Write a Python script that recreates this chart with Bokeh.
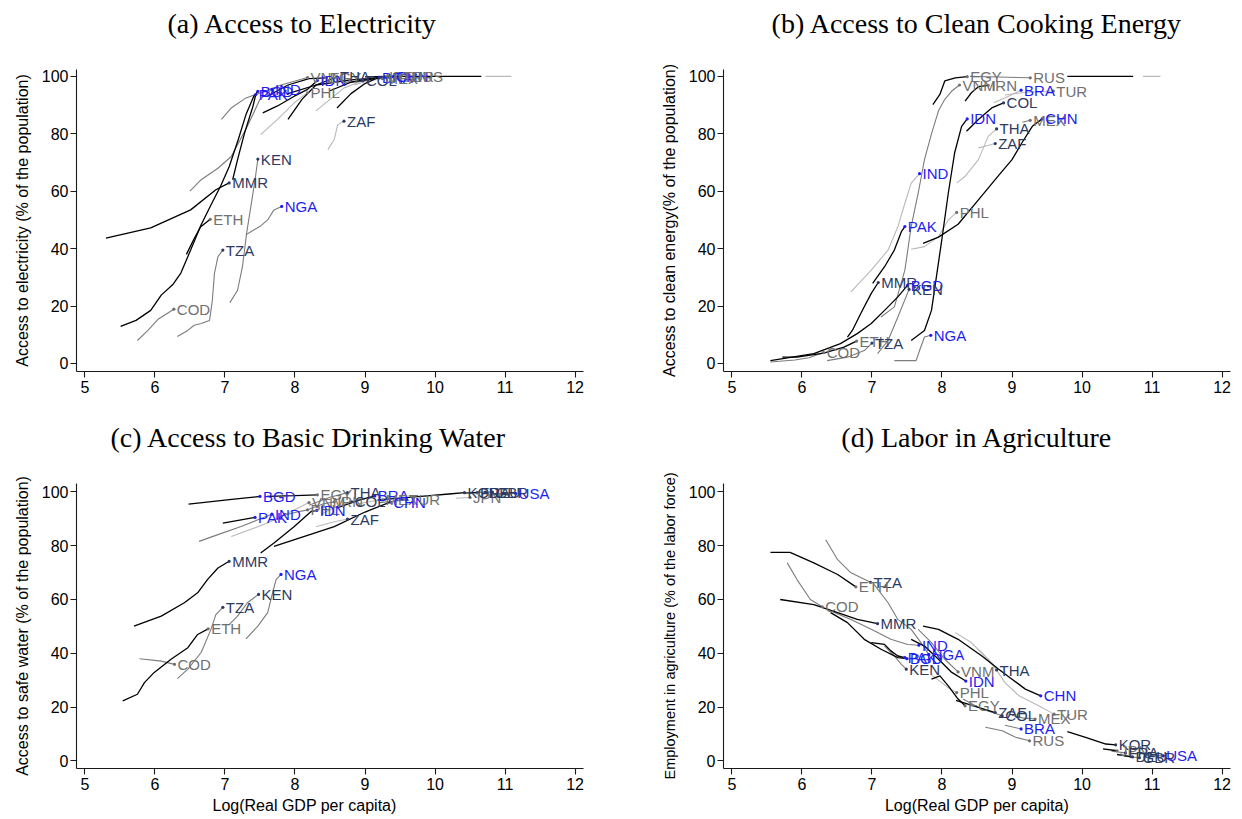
from bokeh.plotting import figure
from bokeh.layouts import column, row
from bokeh.models import ColumnDataSource, Range1d, FixedTicker, Title
from bokeh.core.properties import value
from bokeh.embed import file_html
from bokeh.resources import INLINE

# ---------------- data ----------------
X_TICKS = [5, 6, 7, 8, 9, 10, 11, 12]
Y_TICKS = [0, 20, 40, 60, 80, 100]

BLUE_SET = ["IND", "PAK", "BGD", "IDN", "NGA", "CHN", "BRA", "USA"]
NAVY_SET = ["KEN", "MMR", "TZA", "ZAF", "COL", "THA", "KOR", "FRA", "DEU", "GBR"]

# (a) Access to electricity
A_NAMES = ["KEN", "NGA", "TZA", "COD", "ETH", "MMR", "BGD", "PAK", "IND", "PHL", "ZAF",
           "VNM", "IDN", "EGY", "THA", "COL", "BRA", "MEX", "IRN", "CHN", "TUR", "RUS"]
A_X = [[7.07, 7.18, 7.25, 7.31, 7.37, 7.43, 7.47],
       [7.30, 7.37, 7.51, 7.61, 7.70, 7.81],
       [6.32, 6.47, 6.56, 6.66, 6.78, 6.82, 6.85, 6.90, 6.97],
       [5.75, 5.90, 6.05, 6.27],
       [6.45, 6.55, 6.65, 6.79],
       [5.30, 5.94, 6.51, 6.87, 7.06],
       [5.51, 5.73, 5.94, 6.09, 6.26, 6.37, 6.51, 6.66, 6.80, 6.94, 7.06, 7.19, 7.30, 7.41, 7.47],
       [7.11, 7.18, 7.28, 7.40, 7.44],
       [6.50, 6.66, 6.90, 7.09, 7.32, 7.50, 7.67],
       [7.51, 7.75, 7.99, 8.18],
       [8.47, 8.56, 8.61, 8.70],
       [6.95, 7.09, 7.30, 7.51, 7.80, 8.18],
       [7.54, 7.75, 7.99, 8.18, 8.32],
       [7.60, 7.90, 8.20, 8.45],
       [7.90, 8.10, 8.30, 8.60],
       [8.30, 8.50, 8.70, 8.97],
       [8.60, 8.80, 9.00, 9.20],
       [8.85, 9.05, 9.25],
       [8.50, 8.80, 9.30],
       [7.90, 8.30, 8.80, 9.40],
       [8.80, 9.20, 9.50],
       [9.00, 9.30, 9.62]]
A_Y = [[21.2, 25.5, 33.7, 45.5, 54.7, 64.0, 71.2],
       [44.8, 45.9, 47.9, 50.0, 53.5, 54.7],
       [9.4, 11.5, 13.3, 13.9, 15.0, 22.0, 31.4, 37.2, 39.5],
       [8.0, 11.5, 15.5, 18.9],
       [38.0, 43.0, 47.5, 50.2],
       [43.7, 47.2, 53.5, 60.5, 62.9],
       [12.9, 15.0, 18.5, 23.8, 27.6, 31.5, 39.5, 48.3, 55.2, 61.9, 68.5, 78.0, 86.7, 93.0, 94.8],
       [64.0, 71.0, 80.3, 89.6, 93.7],
       [60.0, 64.0, 68.0, 72.1, 82.6, 92.0, 95.5],
       [79.7, 85.0, 90.8, 94.3],
       [74.5, 78.0, 83.2, 84.4],
       [85.0, 89.0, 92.5, 94.3, 97.0, 99.6],
       [87.3, 89.7, 93.1, 95.5, 98.6],
       [93.0, 97.0, 99.2, 99.5],
       [85.0, 92.0, 97.0, 99.8],
       [88.0, 92.0, 96.0, 98.5],
       [89.0, 94.0, 97.5, 99.7],
       [97.0, 98.5, 99.2],
       [95.0, 98.0, 99.9],
       [94.0, 97.0, 98.8, 99.9],
       [98.0, 99.5, 99.9],
       [99.8, 100.0, 100.0]]
A_STYLE = ["g", "g", "g", "g", "k", "k", "k", "k", "g", "l", "l",
           "g", "k", "k", "k", "l", "k", "l", "k", "k", "k", "k"]
A_EXTRA_X = [[9.62, 10.66], [10.72, 11.09]]
A_EXTRA_Y = [[100.0, 100.0], [100.0, 100.0]]
A_EXTRA_S = ["k", "l"]

# (b) Access to clean cooking energy
B_NAMES = ["EGY", "RUS", "VNM", "IRN", "BRA", "TUR", "COL", "IDN", "THA", "ZAF", "MEX", "CHN",
           "PHL", "PAK", "IND", "MMR", "BGD", "KEN", "ETH", "TZA", "COD", "NGA"]
B_X = [[7.87, 7.97, 8.04, 8.19, 8.36],
       [8.40, 8.80, 9.26],
       [7.13, 7.32, 7.47, 7.56, 7.66, 7.75, 7.85, 7.95, 8.04, 8.14, 8.25],
       [8.33, 8.42, 8.52, 8.66],
       [8.74, 8.95, 9.13],
       [8.90, 9.20, 9.59],
       [8.35, 8.52, 8.71, 8.88],
       [7.56, 7.75, 7.85, 7.99, 8.09, 8.18, 8.28, 8.36],
       [8.21, 8.33, 8.52, 8.66, 8.78],
       [8.52, 8.66, 8.76],
       [9.15, 9.26],
       [7.73, 7.95, 8.23, 8.52, 8.81, 9.00, 9.14, 9.29, 9.43],
       [7.56, 7.75, 7.95, 8.09, 8.21],
       [7.01, 7.18, 7.32, 7.42, 7.47],
       [6.70, 6.99, 7.23, 7.37, 7.47, 7.56, 7.68],
       [6.65, 6.72, 6.84, 6.99, 7.09],
       [5.55, 6.17, 6.55, 6.79, 6.99, 7.18, 7.37, 7.51],
       [7.08, 7.23, 7.37, 7.53],
       [5.72, 5.93, 6.31, 6.60, 6.78],
       [6.36, 6.65, 6.89, 7.00],
       [5.55, 5.90, 6.10, 6.31],
       [7.32, 7.63, 7.68, 7.75, 7.84]]
B_Y = [[90.2, 93.7, 98.4, 99.5, 99.9],
       [100.0, 99.8, 99.5],
       [16.2, 19.7, 32.5, 47.7, 59.3, 71.0, 80.0, 88.0, 92.0, 94.9, 97.0],
       [91.4, 94.3, 96.4, 96.9],
       [90.8, 93.1, 95.2],
       [93.5, 94.5, 94.9],
       [80.9, 85.0, 89.0, 90.8],
       [8.0, 11.5, 18.5, 41.8, 59.3, 73.3, 82.6, 85.2],
       [62.8, 65.2, 71.0, 79.1, 81.7],
       [75.1, 75.9, 76.6],
       [84.0, 84.7],
       [41.8, 44.0, 48.5, 57.0, 65.5, 71.0, 76.8, 82.6, 85.2],
       [39.8, 40.7, 44.2, 50.0, 52.6],
       [27.9, 33.7, 39.5, 45.9, 47.7],
       [24.9, 32.5, 39.5, 47.6, 55.8, 62.8, 66.1],
       [9.2, 11.5, 17.4, 24.4, 28.2],
       [1.0, 3.4, 6.9, 10.4, 13.9, 18.5, 23.2, 27.3],
       [3.4, 8.0, 16.2, 25.8],
       [2.2, 2.2, 3.6, 5.7, 7.8],
       [1.0, 2.2, 4.5, 7.1],
       [0.5, 1.2, 2.0, 3.8],
       [1.0, 1.0, 4.5, 9.2, 9.8]]
B_STYLE = ["k", "g", "g", "k", "l", "l", "k", "k", "l", "l", "g", "k",
           "l", "k", "l", "k", "k", "g", "k", "g", "g", "g"]
B_EXTRA_X = [[9.79, 10.73], [10.87, 11.12]]
B_EXTRA_Y = [[100.0, 100.0], [100.0, 100.0]]
B_EXTRA_S = ["k", "l"]

# (c) Access to basic drinking water
C_NAMES = ["BGD", "EGY", "THA", "PAK", "IND", "VNM", "PHL", "IDN", "IRN", "COL", "ZAF", "BRA",
           "MEX", "CHN", "TUR", "MMR", "NGA", "KEN", "TZA", "ETH", "COD",
           "KOR", "JPN", "FRA", "DEU", "GBR", "USA"]
C_X = [[6.48, 7.13, 7.50],
       [7.60, 8.00, 8.32],
       [8.20, 8.50, 8.75],
       [6.97, 7.23, 7.43],
       [6.63, 6.90, 7.23, 7.47, 7.67],
       [7.09, 7.61, 8.20],
       [7.80, 8.00, 8.18],
       [7.51, 7.70, 7.99, 8.23, 8.31],
       [8.20, 8.40, 8.56],
       [8.40, 8.60, 8.81],
       [8.30, 8.55, 8.75],
       [8.60, 8.90, 9.14],
       [8.90, 9.10, 9.25],
       [7.70, 8.56, 9.00, 9.36],
       [9.20, 9.40, 9.59],
       [5.70, 6.09, 6.42, 6.61, 6.75, 6.90, 7.06],
       [7.30, 7.47, 7.61, 7.68, 7.73, 7.80],
       [7.06, 7.18, 7.32, 7.48],
       [6.32, 6.47, 6.66, 6.80, 6.87, 6.97],
       [5.54, 5.75, 5.85, 5.99, 6.23, 6.47, 6.61, 6.76],
       [5.78, 6.09, 6.28],
       [9.18, 9.80, 10.20, 10.42],
       [10.30, 10.50],
       [10.40, 10.60],
       [10.50, 10.72],
       [10.60, 10.82],
       [10.85, 11.15]]
C_Y = [[95.4, 97.3, 98.3],
       [98.3, 98.6, 98.9],
       [95.0, 98.0, 99.7],
       [88.4, 89.6, 90.5],
       [81.6, 84.1, 87.1, 89.6, 91.7],
       [83.4, 88.4, 96.0],
       [91.0, 92.3, 93.3],
       [77.3, 81.0, 87.1, 92.7, 93.1],
       [93.5, 95.5, 96.3],
       [92.0, 94.5, 96.3],
       [87.0, 88.8, 89.9],
       [94.0, 96.8, 98.5],
       [95.5, 96.5, 97.0],
       [79.7, 87.1, 92.5, 96.2],
       [96.0, 96.5, 97.0],
       [50.1, 53.8, 58.8, 62.5, 67.4, 71.7, 74.2],
       [45.4, 50.1, 55.1, 62.5, 67.4, 69.3],
       [50.7, 53.8, 58.8, 61.9],
       [30.6, 34.1, 40.3, 48.9, 54.4, 57.1],
       [22.3, 24.8, 29.1, 32.9, 37.8, 42.1, 47.0, 49.1],
       [38.0, 37.1, 35.9],
       [97.0, 98.3, 99.2, 99.7],
       [97.6, 97.9],
       [99.5, 99.7],
       [99.7, 99.9],
       [99.8, 99.9],
       [99.2, 99.4]]
C_STYLE = ["k", "k", "g", "k", "g", "l", "g", "k", "g", "l", "l", "k",
           "l", "k", "g", "k", "g", "g", "g", "k", "g",
           "k", "l", "k", "g", "g", "g"]
C_EXTRA_X = []
C_EXTRA_Y = []
C_EXTRA_S = []

# (d) Labor in agriculture
D_NAMES = ["TZA", "ETH", "COD", "MMR", "IND", "NGA", "PAK", "BGD", "KEN", "VNM", "IDN", "THA",
           "CHN", "TUR", "PHL", "EGY", "ZAF", "COL", "MEX", "BRA", "RUS",
           "KOR", "JPN", "FRA", "DEU", "GBR", "USA"]
D_X = [[6.34, 6.51, 6.70, 6.98],
       [5.55, 5.83, 6.17, 6.51, 6.77],
       [5.79, 5.93, 6.12, 6.29],
       [5.69, 6.17, 6.51, 6.79, 7.08],
       [6.41, 6.70, 6.99, 7.27, 7.51, 7.67],
       [7.03, 7.23, 7.37, 7.56, 7.70, 7.81],
       [6.99, 7.18, 7.27, 7.37, 7.47],
       [6.41, 6.65, 6.89, 7.13, 7.37, 7.50],
       [7.18, 7.32, 7.42, 7.49],
       [7.66, 7.85, 8.04, 8.23],
       [7.56, 7.75, 7.95, 8.14, 8.34],
       [8.19, 8.42, 8.61, 8.78],
       [7.73, 7.95, 8.23, 8.57, 8.81, 9.00, 9.19, 9.41],
       [8.52, 8.71, 8.90, 9.10, 9.38, 9.60],
       [7.85, 8.00, 8.10, 8.21],
       [7.85, 7.97, 8.09, 8.23, 8.33],
       [8.20, 8.45, 8.76],
       [8.30, 8.55, 8.86],
       [9.00, 9.15, 9.33],
       [8.90, 9.13],
       [8.62, 8.86, 9.05, 9.25],
       [9.79, 10.05, 10.34, 10.48],
       [10.30, 10.50],
       [10.42, 10.62],
       [10.50, 10.72],
       [10.60, 10.82],
       [10.90, 11.16]]
D_Y = [[82.2, 74.8, 69.9, 66.4],
       [77.5, 77.5, 73.6, 69.3, 64.7],
       [73.6, 67.4, 60.0, 57.3],
       [60.0, 58.1, 55.1, 52.6, 51.0],
       [55.7, 52.6, 48.9, 45.2, 43.3, 43.0],
       [65.6, 58.8, 52.6, 48.9, 44.0, 39.6],
       [44.0, 43.3, 40.9, 39.0, 38.4],
       [55.1, 51.4, 45.2, 41.5, 38.4, 38.0],
       [42.7, 39.0, 35.9, 34.1],
       [48.9, 44.0, 37.8, 33.1],
       [45.2, 42.7, 37.8, 32.9, 29.7],
       [47.7, 44.0, 39.0, 33.8],
       [50.1, 48.9, 45.2, 39.0, 34.1, 30.4, 26.7, 24.2],
       [41.5, 36.5, 29.1, 24.2, 20.5, 17.4],
       [32.0, 29.0, 27.0, 25.4],
       [30.4, 31.6, 27.9, 23.0, 20.5],
       [22.5, 20.5, 18.0],
       [23.0, 19.5, 16.8],
       [17.0, 16.0, 15.6],
       [13.3, 11.9],
       [12.5, 11.2, 8.8, 7.5],
       [10.9, 8.8, 6.3, 6.0],
       [4.5, 3.8],
       [3.6, 3.0],
       [2.4, 1.5],
       [1.8, 1.2],
       [2.3, 1.9]]
D_STYLE = ["g", "k", "g", "k", "g", "g", "k", "k", "g", "g", "k", "l",
           "k", "l", "l", "k", "k", "g", "g", "g", "g",
           "k", "k", "g", "k", "g", "g"]
D_EXTRA_X = []
D_EXTRA_Y = []
D_EXTRA_S = []

TITLES = ["(a) Access to Electricity", "(b) Access to Clean Cooking Energy",
          "(c) Access to Basic Drinking Water", "(d) Labor in Agriculture"]
YLABELS = ["Access to electricity (% of the population)",
           "Access to clean energy(% of the population)",
           "Access to safe water (% of the population)",
           "Employment in agriculture (% of the labor force)"]
XLABEL = "Log(Real GDP per capita)"

# ---------------- styling ----------------
BLUE = "#1d1df2"
NAVY = "#2d3a62"
GRAY = "#707070"
LINE_COLOR = {"k": "#000000", "g": "#7c7c7c", "l": "#b9b9b9"}
LINE_WIDTH = {"k": 1.3, "g": 1.1, "l": 1.1}
SANS = "Liberation Sans"
SERIF = "Liberation Serif"


def label_color(name):
    if name in BLUE_SET:
        return BLUE
    if name in NAVY_SET:
        return NAVY
    return GRAY


def panel(names, xs, ys, styles, ex, ey, es, title, ylabel, ylab_size, yr,
          left, right, top, bottom, fh, xlabel, t_align, t_offset, xl_align, xl_offset):
    p = figure(frame_width=507, frame_height=fh,
               x_range=Range1d(4.88, 12.12), y_range=Range1d(*yr),
               output_backend="svg", toolbar_location=None, title=title + "\n ",
               min_border_left=left, min_border_right=right,
               min_border_top=top, min_border_bottom=bottom,
               background_fill_color="white", border_fill_color="white")
    p.outline_line_color = None
    p.xgrid.visible = False
    p.ygrid.visible = False

    order = {"l": 0, "g": 1, "k": 2}
    lines = list(zip(xs, ys, styles)) + list(zip(ex, ey, es))
    lines.sort(key=lambda t: order[t[2]])
    src = ColumnDataSource(dict(xs=[t[0] for t in lines], ys=[t[1] for t in lines],
                                c=[LINE_COLOR[t[2]] for t in lines],
                                w=[LINE_WIDTH[t[2]] for t in lines]))
    p.multi_line("xs", "ys", source=src, line_color="c", line_width="w")

    lab = ColumnDataSource(dict(x=[v[-1] for v in xs], y=[v[-1] for v in ys], t=names,
                                c=[label_color(n) for n in names]))
    p.scatter("x", "y", source=lab, size=3.2, fill_color="c", line_color=None)
    p.text("x", "y", text="t", source=lab, text_color="c",
           text_font=value(SANS), text_font_size=value("15px"),
           text_baseline="middle", text_align="left", x_offset=3)

    for ax in (p.xaxis[0], p.yaxis[0]):
        ax.axis_line_color = "#1a1a1a"
        ax.axis_line_width = 1.1
        ax.major_tick_line_color = "#1a1a1a"
        ax.major_tick_line_width = 1.1
        ax.major_tick_in = 0
        ax.major_tick_out = 6
        ax.minor_tick_line_color = None
        ax.major_label_text_font = SANS
        ax.major_label_text_font_size = "16px"
        ax.major_label_text_color = "black"
        ax.axis_label_text_font = SANS
        ax.axis_label_text_font_style = "normal"
        ax.axis_label_text_color = "black"
    p.xaxis.ticker = FixedTicker(ticks=X_TICKS)
    p.yaxis.ticker = FixedTicker(ticks=Y_TICKS)
    p.xaxis.major_label_standoff = 3
    p.yaxis.major_label_standoff = 2
    p.yaxis.axis_label = ylabel
    p.yaxis.axis_label_text_font_size = ylab_size
    p.yaxis.axis_label_standoff = 8

    if xlabel:
        p.add_layout(Title(text=xlabel, text_font=SANS, text_font_size="16px",
                           text_font_style="normal", text_color="black",
                           align=xl_align, offset=xl_offset, standoff=4), "below")

    p.title.text_font = SERIF
    p.title.text_font_size = "28px"
    p.title.text_font_style = "normal"
    p.title.text_color = "black"
    p.title.align = t_align
    p.title.offset = t_offset
    p.title.standoff = 0
    return p


YR_TOP = (-2.8, 102.4)
YR_BOT = (-2.8, 103.1)

pa = panel(A_NAMES, A_X, A_Y, A_STYLE, A_EXTRA_X, A_EXTRA_Y, A_EXTRA_S, TITLES[0], YLABELS[0],
           "16px", YR_TOP, 76, 64, 69, 38, 302, None, "left", 91, "center", 0)
pb = panel(B_NAMES, B_X, B_Y, B_STYLE, B_EXTRA_X, B_EXTRA_Y, B_EXTRA_S, TITLES[1], YLABELS[1],
           "16px", YR_TOP, 76, 12, 69, 38, 302, None, "center", 0, "center", 0)
pc = panel(C_NAMES, C_X, C_Y, C_STYLE, C_EXTRA_X, C_EXTRA_Y, C_EXTRA_S, TITLES[2], YLABELS[2],
           "16px", YR_BOT, 76, 64, 74, 51, 285, XLABEL, "left", 34, "left", 136)
pd = panel(D_NAMES, D_X, D_Y, D_STYLE, D_EXTRA_X, D_EXTRA_Y, D_EXTRA_S, TITLES[3], YLABELS[3],
           "14.5px", YR_BOT, 76, 12, 74, 51, 285, XLABEL, "center", 0, "center", 0)

layout = column(row(pa, pb, spacing=0), row(pc, pd, spacing=0), spacing=0)

with open("out.html", "w") as f:
    f.write(file_html(layout, INLINE))
